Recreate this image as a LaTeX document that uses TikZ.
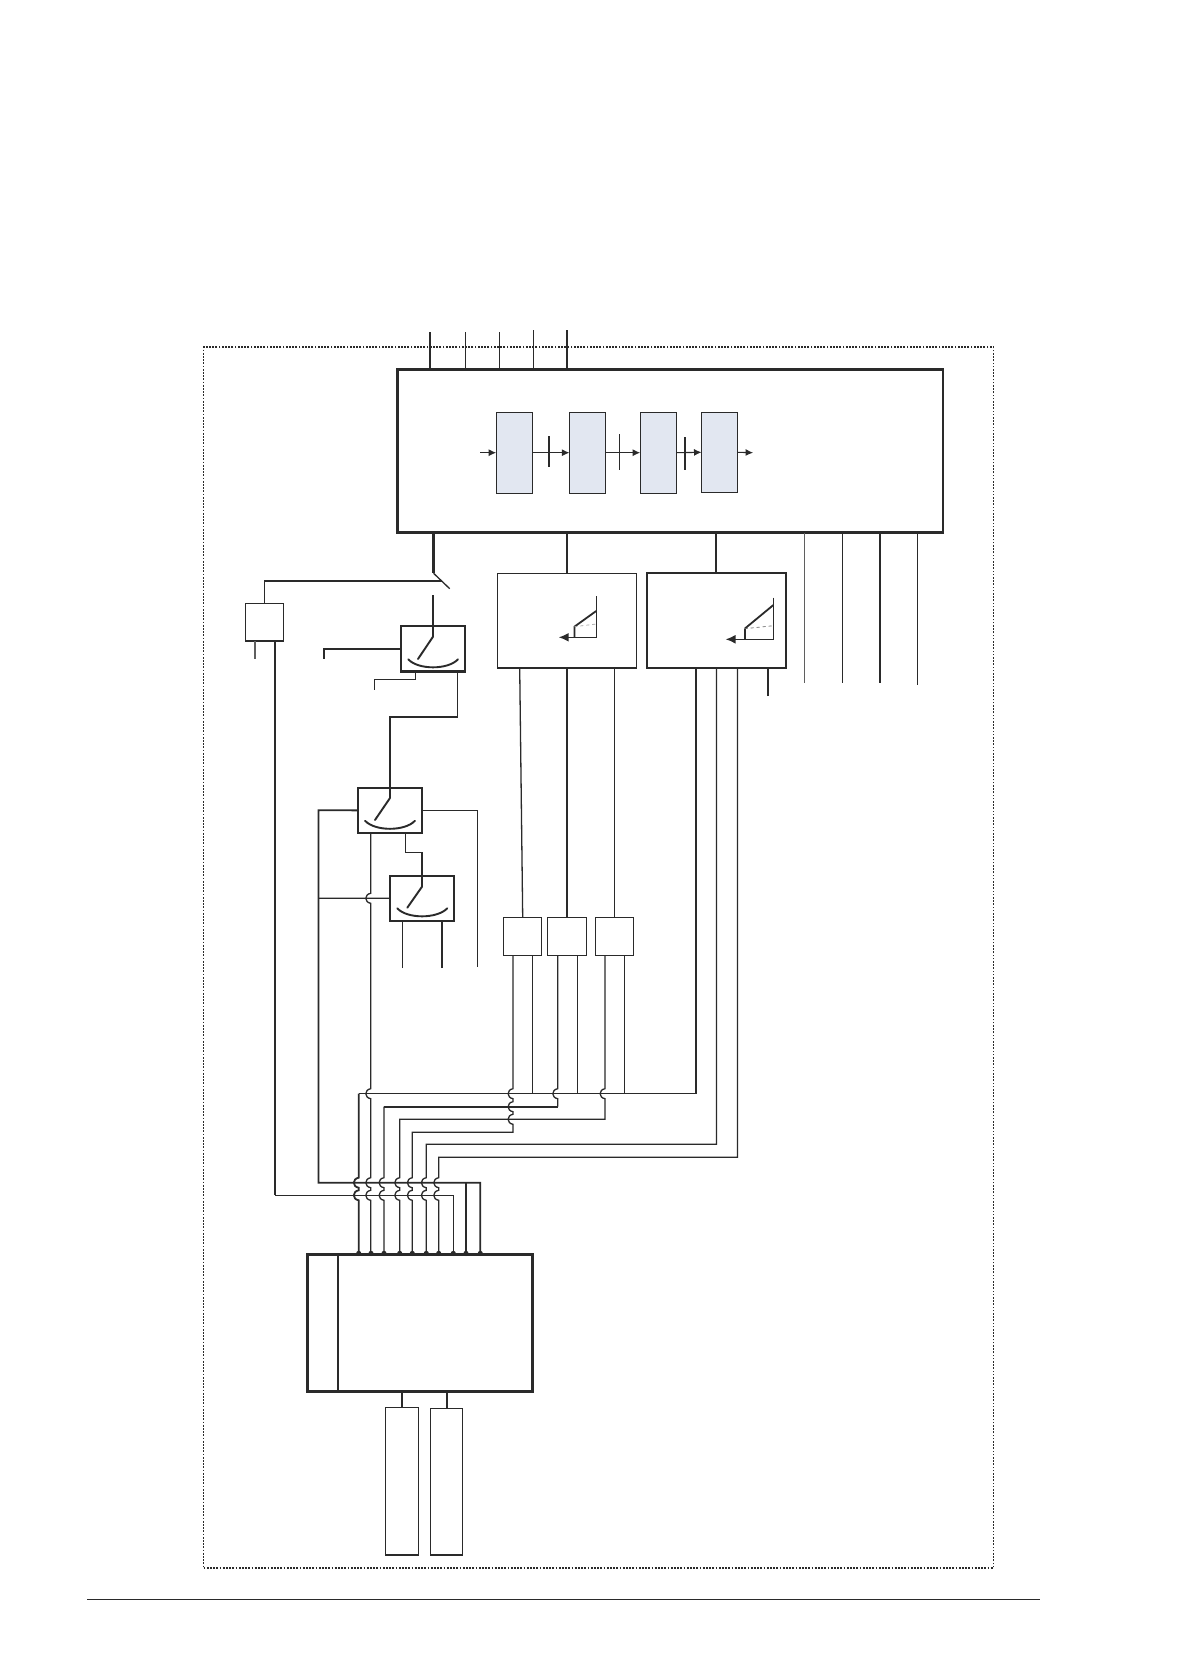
\documentclass[tikz,border=0pt]{standalone}
\usetikzlibrary{arrows.meta}
\definecolor{ink}{HTML}{2A2A2A}
\definecolor{paleblue}{HTML}{E2E7F1}
\newcommand{\hopat}[2]{-- (#1,{#2-5}) .. controls ({#1-6.5},{#2-4}) and ({#1-6.5},{#2+4}) .. (#1,{#2+5})}
\newcommand{\boxnode}[6]{\node[#2,minimum width={(#5-#3)*1pt},minimum height={(#6-#4)*1pt}] (#1) at ({(#3+#5)/2},{(#4+#6)/2}) {};}
\newcommand{\stub}[5][wire]{\coordinate (#2) at (#3,#4); \draw[#1] (#2) -- (#2 |- #5);}
\tikzset{
  wire/.style={draw=ink,line width=1.3pt,line join=miter},
  hair/.style={draw=ink,line width=.9pt},
  bold/.style={draw=ink,line width=1.8pt},
  grey/.style={draw=ink!75,line width=1.3pt},
  thinbox/.style={draw=ink,line width=1.1pt,fill=white,inner sep=0pt,outer sep=0pt},
  semibox/.style={draw=ink,line width=1.5pt,fill=white,inner sep=0pt,outer sep=0pt},
  midbox/.style={draw=ink,line width=2pt,fill=white,inner sep=0pt,outer sep=0pt},
  heavybox/.style={draw=ink,line width=2.6pt,fill=white,inner sep=0pt,outer sep=0pt},
  stagebox/.style={draw=ink,line width=1.1pt,fill=paleblue,inner sep=0pt,outer sep=0pt},
  flow/.style={draw=ink,line width=1.1pt,-{Latex[length=7.5pt,width=7pt]}},
  lever/.style={draw=ink,line width=1.9pt,line cap=round},
  bigflow/.style={draw=ink,line width=1.5pt,-{Latex[length=10pt,width=9pt]}},
  frame/.style={draw=ink,line width=1.5pt,dash pattern=on 1.7pt off 1.5pt},
}
\begin{document}
\begin{tikzpicture}[x=1pt,y=-1pt]
\useasboundingbox (0,0) rectangle (1182,1680);
\fill[white] (0,0) rectangle (1182,1680);
% outer frame and rule
\node[frame,inner sep=0pt,outer sep=0pt,minimum width=790pt,minimum height=1220.7pt] (frameb) at (598.6,957.5) {};
\coordinate (ruleL) at (87,1599.5); \coordinate (ruleR) at (1039.5,1599.5);
\draw[draw=ink,line width=1pt] (ruleL) -- (ruleR);
% main block
\boxnode{main}{heavybox}{397.6}{369.2}{943}{532.6}
\boxnode{st1}{stagebox}{496.2}{412.2}{532.4}{493.2}
\boxnode{st2}{stagebox}{569.4}{412.2}{605.4}{493.2}
\boxnode{st3}{stagebox}{640.2}{412.2}{676.6}{493.2}
\boxnode{st4}{stagebox}{701.5}{412.2}{737.8}{492.4}
\coordinate (fin) at (480.3,452.7); \coordinate (fout) at (753.1,452.7);
\draw[flow] (fin) -- (st1.west);
\draw[flow] (st1.east) -- (st2.west);
\draw[flow] (st2.east) -- (st3.west);
\draw[flow] (st3.east) -- (st4.west);
\draw[flow] (st4.east) -- (fout);
\coordinate (t1a) at (548.8,436.3); \coordinate (t1b) at (548.8,466.7);
\coordinate (t2a) at (619.6,434); \coordinate (t2b) at (619.6,470);
\coordinate (t3a) at (685,437.3); \coordinate (t3b) at (685,469.7);
\draw[draw=ink,line width=2pt] (t1a) -- (t1b);
\draw[hair] (t2a) -- (t2b);
\draw[draw=ink,line width=2pt] (t3a) -- (t3b);
% top terminals
\stub[bold]{p1}{429.8}{332}{main.north}
\stub[hair]{p2}{465}{332}{main.north}
\stub[bold]{p3}{499.4}{332}{main.north}
\stub[wire]{p4}{533.7}{330}{main.north}
\stub[wire]{p5}{566.9}{330}{main.north}
% right terminals
\stub[grey]{r1}{804.8}{682.7}{main.south}
\stub[wire]{r2}{842.3}{682.7}{main.south}
\stub[bold]{r3}{879.8}{682.7}{main.south}
\stub[hair]{r4}{917.3}{684.7}{main.south}
% slope blocks
\boxnode{E}{thinbox}{497.5}{573.3}{636.4}{668}
\boxnode{F}{midbox}{646.7}{572.7}{786}{668}
\draw[bold] (main.south -| E.north) -- (E.north);
\draw[bold] (main.south -| F.north) -- (F.north);
% slope glyph E
\coordinate (ea) at (596.2,596); \coordinate (eb) at (596.2,637.3); \coordinate (ec) at (574.4,637.3);
\coordinate (ed) at (574.4,626.7); \coordinate (ee) at (596.2,611); \coordinate (ef) at (596.2,624); \coordinate (eg) at (558.7,637.3);
\draw[wire] (ea) -- (eb) -- (ec);
\draw[bold] (ec) -- (ed) -- (ee);
\draw[draw=ink!45,line width=.7pt,dashed] (ed) -- (ef);
\draw[bigflow] (ec) -- (eg);
% slope glyph F
\coordinate (fa) at (773.4,597.7); \coordinate (fb) at (773.4,639.3); \coordinate (fc) at (744.7,639.3);
\coordinate (fd) at (744.7,628.7); \coordinate (fe) at (773.4,605); \coordinate (ff) at (773.4,625.7); \coordinate (fg) at (725.6,639.3);
\draw[wire] (fa) -- (fb) -- (fc);
\draw[bold] (fc) -- (fd);
\draw[bold] (fd) -- (fe);
\draw[draw=ink!70,line width=.7pt,dashed] (fd) -- (ff);
\draw[bigflow] (fc) -- (fg);
% Disconnector at main block
\coordinate (dtop) at (433.6,532.6); \coordinate (dknee) at (433.6,573.3); \coordinate (dend) at (449.7,588.7);
\coordinate (dtap) at (441.6,580.7);
\draw[draw=ink,line width=2.4pt] (dtop) -- (dknee);
\draw[wire] (dknee) -- (dend);
% small supply block
\boxnode{D}{semibox}{245.7}{603.3}{283.3}{641}
\draw[draw=ink,line width=1.6pt] (D.north) |- (dtap);
% switch A
\boxnode{A}{heavybox}{401}{626}{465}{671.7}
\coordinate (asrc) at (433,595); \coordinate (apiv) at (433,636.7); \coordinate (atip) at (418,659);
\draw[wire,line width=1.5pt] (asrc) -- (apiv);
\draw[lever] (apiv) -- (atip);
\coordinate (aarcL) at (408.3,659.3); \coordinate (aarcR) at (458,659.3);
\draw[lever] (aarcL) .. controls (418,670) and (448,670) .. (aarcR);
\coordinate (aL) at (324,659.3);
\draw[draw=ink,line width=1.7pt] (A.west) -| (aL);
\coordinate (amid) at (415.7,671.7); \coordinate (amid2) at (374.3,690);
\draw[hair] (amid) |- (374.3,679.3) -- (amid2);
% switch B
\boxnode{B}{midbox}{358}{788}{422}{832.7}
\coordinate (bpiv) at (390,798); \coordinate (btip) at (375,820);
\coordinate (arb) at (457.7,671.7);
\draw[wire] (arb) -- (457.7,716.7);
\draw[draw=ink,line width=1.6pt] (457.7,716.7) -- (390,716.7) -- (B.north);
\draw[wire,line width=1.5pt] (B.north) -- (bpiv);
\draw[lever] (bpiv) -- (btip);
\coordinate (barcL) at (365,820.7); \coordinate (barcR) at (415,820.7);
\draw[lever] (barcL) .. controls (375,831.5) and (405,831.5) .. (barcR);
\coordinate (bR) at (477.3,966.7);
\draw[hair] (B.east) -| (bR);
% switch C
\boxnode{C}{midbox}{390}{875.7}{454}{920.7}
\coordinate (bC) at (405.7,832.7);
\draw[wire] (bC) |- (422,852.7) -- (C.north);
\coordinate (cpiv) at (422,886.7); \coordinate (ctip) at (407.3,907.7);
\draw[wire,line width=1.5pt] (C.north) -- (cpiv);
\draw[lever] (cpiv) -- (ctip);
\coordinate (carcL) at (397.3,908.3); \coordinate (carcR) at (447.3,908.3);
\draw[lever] (carcL) .. controls (407,919) and (437,919) .. (carcR);
\coordinate (c1) at (402.7,968); \coordinate (c2) at (441.7,968);
\draw[wire] (c1) -- (c1 |- C.south);
\draw[bold] (c2) -- (c2 |- C.south);
% terminal blocks
\boxnode{G}{semibox}{503.7}{917.3}{541.7}{955.3}
\boxnode{H}{semibox}{547.7}{917.3}{586.3}{955.3}
\boxnode{I}{thinbox}{595.7}{917.3}{633.3}{955.3}
\coordinate (egt) at (519.7,668);
\draw[wire] (egt) -- (G.north);
\draw[bold] (E.south) -- (H.north);
\draw[hair] (I.north |- E.south) -- (I.north);
% converter block
\boxnode{J}{heavybox}{307.3}{1254.7}{532.7}{1391.7}
\coordinate (Ji) at (338,1254.7);
\draw[draw=ink,line width=1.8pt] (Ji) -- (Ji |- J.south);
\boxnode{K}{semibox}{385.7}{1407.7}{418.3}{1555}
\boxnode{L}{thinbox}{430.7}{1408.3}{462.7}{1555}
\draw[draw=ink,line width=2pt] (K.north |- J.south) -- (K.north);
\draw[draw=ink,line width=2pt] (L.north |- J.south) -- (L.north);
% F outputs
\coordinate (f1) at (696.1,668); \coordinate (f2) at (716.4,668); \coordinate (f3) at (737.4,668);
\stub[draw=ink,line width=2pt]{f4}{768}{696}{F.south}
% bus conductors
\coordinate (g1) at (513,955.3); \coordinate (g2) at (532.7,955.3);
\coordinate (h1) at (557.7,955.3); \coordinate (h2) at (577.3,955.3);
\coordinate (i1) at (605,955.3); \coordinate (i2) at (624.7,955.3);
\draw[wire] (f1) -- (696.1,1093.7) -- (358.7,1093.7);
\draw[bold] (358.7,1093.7) \hopat{358.7}{1182.7} \hopat{358.7}{1195.3} -- (358.7,1254.7);
\draw[wire] (g2) -- (532.7,1093.7);
\draw[wire] (h2) -- (577.3,1093.7);
\draw[wire] (i2) -- (624.7,1093.7);
\draw[wire] (B.south -| 370.7,0) \hopat{370.7}{898.3} \hopat{370.7}{1093.7} \hopat{370.7}{1182.7} \hopat{370.7}{1195.3} -- (370.7,1254.7);
\draw[wire] (h1) \hopat{557.7}{1093.7} -- (557.7,1106.7);
\draw[bold] (557.7,1106.7) -- (384,1106.7);
\draw[wire] (384,1106.7) \hopat{384}{1182.7} \hopat{384}{1195.3} -- (384,1254.7);
\draw[wire] (i1) \hopat{605}{1093.7} -- (605,1119.3) -- (399.7,1119.3) \hopat{399.7}{1182.7} \hopat{399.7}{1195.3} -- (399.7,1254.7);
\draw[wire] (g1) \hopat{513}{1093.7} \hopat{513}{1106.7} \hopat{513}{1119.3} -- (513,1132.3) -- (412.3,1132.3) \hopat{412.3}{1182.7} \hopat{412.3}{1195.3} -- (412.3,1254.7);
\draw[wire] (f2) -- (716.4,1144.3) -- (426.3,1144.3) \hopat{426.3}{1182.7} \hopat{426.3}{1195.3} -- (426.3,1254.7);
\draw[wire] (f3) -- (737.4,1157.3) -- (438.7,1157.3) \hopat{438.7}{1182.7} \hopat{438.7}{1195.3} -- (438.7,1254.7);
% protective conductors
\draw[bold] (B.west) -- (318.5,810.3) -- (318.5,1182.7) -- (480.3,1182.7) -- (480.3,1254.7);
\draw[bold] (466,1182.7) -- (466,1254.7);
\draw[wire] (318.5,898.3) -- (C.west);
\coordinate (Dr) at (275,641); \coordinate (Dl) at (255,641); \coordinate (Dl2) at (255,659.3);
\draw[grey] (Dl) -- (Dl2);
\draw[bold] (Dr) -- (275,1195.3);
\draw[wire] (275,1195.3) -- (453.3,1195.3) -- (453.3,1254.7);
% terminal dots
\foreach \dx in {358.7,371,384,399.7,412.3,426.3,438.7,453.3,466,480.3}
  \fill[ink] (\dx,1253.4) circle (2.6pt);
\end{tikzpicture}
\end{document}
